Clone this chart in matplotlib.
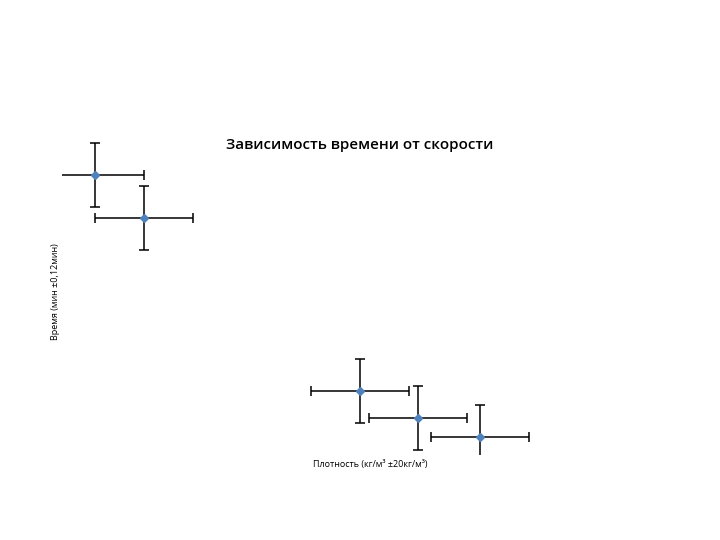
import matplotlib.pyplot as plt
import numpy as np

# plotnost' (kg/m3) and vremya (min)
density = [1000, 1020, 1108, 1132, 1157]
time_min = [2.00, 1.84, 1.19, 1.09, 1.02]
density_err = 20
time_err = 0.12

title = "Зависимость времени от скорости"
xlabel = "Плотность (кг/м³ ±20кг/м³)"
ylabel = "Время (мин ±0,12мин)"

fig = plt.figure(figsize=(7.2, 5.4), dpi=100)
ax = fig.add_axes([62/720, (540-455)/540, 478/720, 325/540])

ax.errorbar(density, time_min, xerr=density_err, yerr=time_err,
            fmt='D', color='#4F81BD', markersize=4,
            ecolor='black', elinewidth=1.1, capsize=3.5, capthick=1.1)

ax.set_xlim(1000 + (62-95)/2.45, 1000 + (540-95)/2.45)
ax.set_ylim(2.0 - (455-175)/267, 2.0 + 45/267)
ax.axis('off')

fig.text(360/720, 1 - 145/540, title, ha='center', va='center',
         fontsize=10.9, family='Open Sans', weight='semibold')
fig.text(370/720, 1 - 464/540, xlabel, ha='center', va='center',
         fontsize=6.5, family='Open Sans')
fig.text(56/720, 1 - 292/540, ylabel, ha='center', va='center',
         fontsize=6.5, family='Open Sans', rotation=90)

fig.savefig('out.png', dpi=100)
